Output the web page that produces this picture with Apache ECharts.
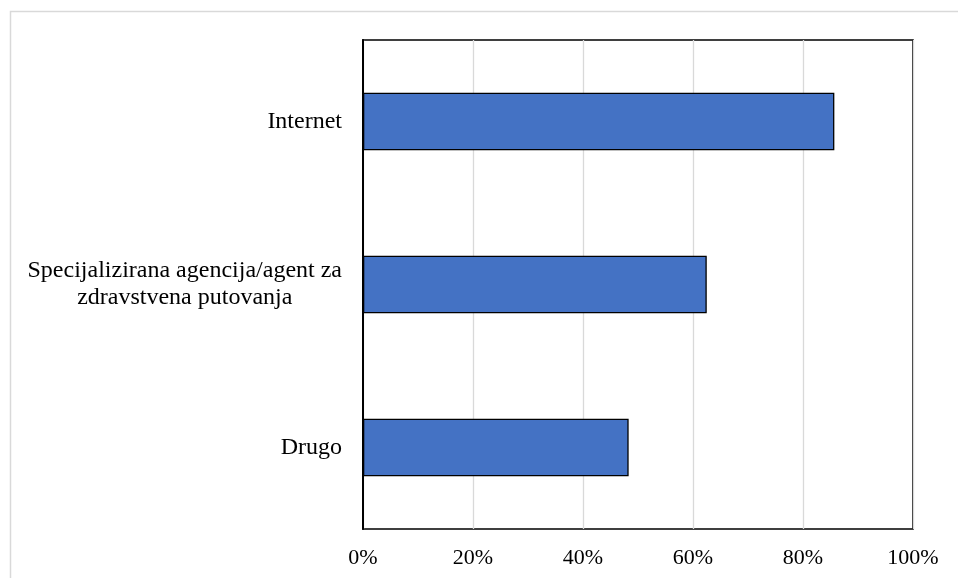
<!DOCTYPE html>
<html>
<head>
<meta charset="utf-8">
<script src="https://cdn.jsdelivr.net/npm/echarts@6/dist/echarts.min.js"></script>
<style>
  html, body { margin: 0; padding: 0; background: #fff; }
  #chart { width: 958px; height: 578px; }
</style>
</head>
<body>
<div id="chart"></div>
<script>
const categories = ['Internet', 'Specijalizirana agencija/agent za\nzdravstvena putovanja', 'Drugo'];
const values = [85.7, 62.5, 48.3];
const xTicks = [0, 20, 40, 60, 80, 100];

const FONT = '"Liberation Serif", "Times New Roman", serif';
const FS_Y = 24;
const FS_X = 22;

// measure widest line of multi-line labels so the lines can be centred in a block
const cv = document.createElement('canvas').getContext('2d');
cv.font = FS_Y + 'px ' + FONT;
function widest(s) { return Math.max(...s.split('\n').map(l => cv.measureText(l).width)); }

const chart = echarts.init(document.getElementById('chart'));
chart.setOption({
  backgroundColor: '#ffffff',
  animation: false,
  graphic: [{
    type: 'rect',
    shape: { x: 10.5, y: 11.5, width: 1000, height: 1000 },
    style: { fill: 'none', stroke: '#d9d9d9', lineWidth: 1.5 },
    silent: true
  }],
  grid: {
    left: 363, right: 45, top: 40, bottom: 49,
    show: true, borderColor: '#000', borderWidth: 1.6,
    containLabel: false, outerBoundsMode: 'none'
  },
  xAxis: {
    type: 'value',
    min: 0, max: 100, interval: 20,
    axisLine: { show: false },
    axisTick: { show: false },
    splitLine: { show: true, lineStyle: { color: '#d9d9d9', width: 1.3 } },
    axisLabel: {
      margin: 18,
      color: '#000',
      fontFamily: FONT, fontSize: FS_X,
      formatter: v => xTicks.includes(v) ? v + '%' : ''
    }
  },
  yAxis: {
    type: 'category',
    data: categories,
    inverse: true,
    axisLine: { show: true, lineStyle: { color: '#000', width: 2 } },
    axisTick: { show: false },
    axisLabel: {
      margin: 21,
      color: '#000',
      fontFamily: FONT, fontSize: FS_Y,
      lineHeight: 27,
      formatter: function (v) {
        if (v.indexOf('\n') < 0) return v;
        return v.split('\n').map(l => '{c|' + l + '}').join('\n');
      },
      rich: {
        c: {
          width: widest(categories[1]),
          align: 'center',
          fontFamily: FONT, fontSize: FS_Y, lineHeight: 27, color: '#000'
        }
      }
    }
  },
  series: [{
    type: 'bar',
    data: values,
    barCategoryGap: '64.6%',
    itemStyle: { color: '#4472c4', borderColor: '#000', borderWidth: 1.3 },
    silent: true
  }]
});
</script>
</body>
</html>
